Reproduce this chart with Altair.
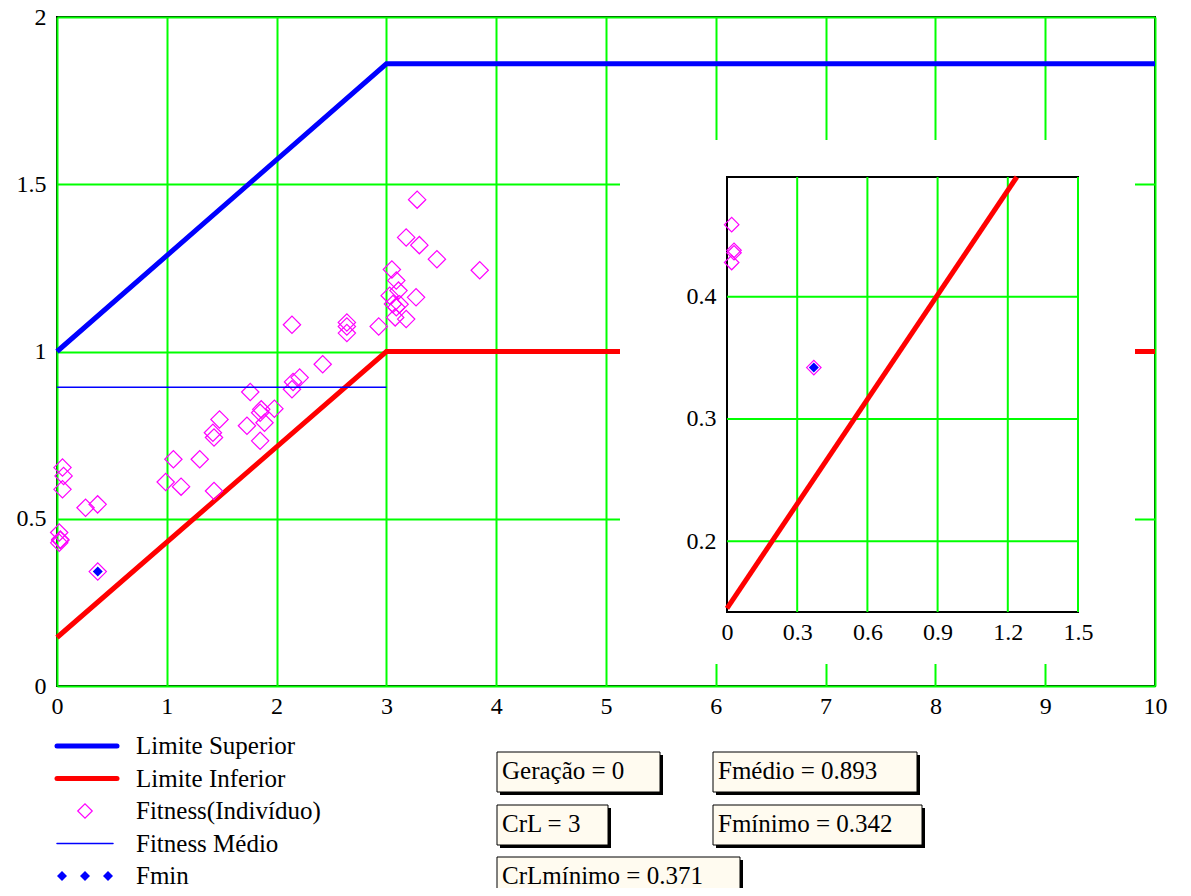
import altair as alt
import pandas as pd

# ------------------------------------------------------------------ data
LIMIT_X = [0, 3, 10]
LIMITE_SUPERIOR = [1.0, 1.86, 1.86]
LIMITE_INFERIOR = [0.145, 1.0, 1.0]

FIT_X = [3.28, 3.18, 3.30, 3.46, 3.85, 3.05, 3.09, 3.11, 3.03, 3.27, 3.06, 3.09, 3.12,
         3.08, 3.18, 2.93, 2.64, 2.64, 2.64, 2.14, 2.42, 2.21, 2.15, 2.14, 1.76, 1.86,
         1.85, 1.98, 1.89, 1.73, 1.85, 1.48, 1.42, 1.43, 1.30, 1.06, 0.99, 1.13, 1.43,
         0.05, 0.06, 0.05, 0.26, 0.37, 0.02, 0.03, 0.03, 0.02, 0.371]
FIT_Y = [1.454, 1.341, 1.318, 1.276, 1.243, 1.245, 1.212, 1.182, 1.167, 1.162, 1.142,
         1.132, 1.141, 1.102, 1.097, 1.075, 1.087, 1.075, 1.055, 1.080, 0.962, 0.922,
         0.909, 0.887, 0.879, 0.827, 0.817, 0.829, 0.787, 0.778, 0.733, 0.797, 0.757,
         0.743, 0.678, 0.678, 0.610, 0.596, 0.583, 0.653, 0.628, 0.588, 0.533, 0.543,
         0.459, 0.438, 0.436, 0.428, 0.342]

FMEDIO = 0.893
FMEDIO_X = [0, 3]
FMIN = 0.342
CRL_MIN = 0.371
GERACAO = 0
CRL = 3

MAIN_X_DOMAIN = [0, 10]
MAIN_Y_DOMAIN = [0, 2]
MAIN_X_TICKS = [0, 1, 2, 3, 4, 5, 6, 7, 8, 9, 10]
MAIN_Y_TICKS = [0, 0.5, 1, 1.5, 2]

INSET_X_DOMAIN = [0, 1.5]
INSET_Y_DOMAIN = [0.142, 0.498]
INSET_X_TICKS = [0, 0.3, 0.6, 0.9, 1.2, 1.5]
INSET_Y_TICKS = [0.2, 0.3, 0.4]

LEGEND_LABELS = ["Limite Superior", "Limite Inferior", "Fitness(Indivíduo)",
                 "Fitness Médio", "Fmin"]
BOX_TEXTS = [f"Geração = {GERACAO}", f"Fmédio = {FMEDIO}", f"CrL = {CRL}",
             f"Fmínimo = {FMIN}", f"CrLmínimo = {CRL_MIN}"]

# ------------------------------------------------------------------ layout
W, H = 1098, 669
PAD = {"left": 49, "top": 9, "right": 28, "bottom": 202}
INSET_RANGE_X = [670, 1021]
INSET_RANGE_Y = [595, 160]
PANEL = dict(x=563, x2=1078, y=123, y2=647)    # white panel behind the inset
LEGEND_ROWS_RANGE = [729, 859]
BOX_LEFT = [440, 656]
BOX_TOP = [735, 788, 840]
BOX_W = [163, 204, 111, 209, 243]
BOX_COL = [0, 1, 0, 1, 0]
BOX_ROW = [0, 0, 1, 1, 2]
BOX_H = 40
SHADOW = 3

FONT = "Liberation Serif"
GREEN = "#00ff00"
BLUE = "#0000ff"
RED = "#ff0000"
MAGENTA = "#ff00ff"
CREAM = "#fffbf0"


def clip_polyline(xs, ys, xlim, ylim):
    """Liang-Barsky clipping of a polyline to a rectangle."""
    out_x, out_y = [], []
    for i in range(len(xs) - 1):
        x0, y0, x1, y1 = xs[i], ys[i], xs[i + 1], ys[i + 1]
        dx, dy = x1 - x0, y1 - y0
        t0, t1 = 0.0, 1.0
        ok = True
        for p, q in ((-dx, x0 - xlim[0]), (dx, xlim[1] - x0),
                     (-dy, y0 - ylim[0]), (dy, ylim[1] - y0)):
            if p == 0:
                if q < 0:
                    ok = False
            else:
                r = q / p
                if p < 0:
                    t0 = max(t0, r)
                else:
                    t1 = min(t1, r)
        if ok and t0 <= t1:
            for t in (t0, t1):
                px, py = x0 + t * dx, y0 + t * dy
                if not out_x or (abs(out_x[-1] - px) > 1e-9 or abs(out_y[-1] - py) > 1e-9):
                    out_x.append(px)
                    out_y.append(py)
    return out_x, out_y


limits = pd.DataFrame({"x": LIMIT_X, "sup": LIMITE_SUPERIOR, "inf": LIMITE_INFERIOR})
fit = pd.DataFrame({"x": FIT_X, "y": FIT_Y})
medio = pd.DataFrame({"x": FMEDIO_X, "y": [FMEDIO] * len(FMEDIO_X)})
fmin = pd.DataFrame({"x": [CRL_MIN], "y": [FMIN]})

# ------------------------------------------------------------------ main plot
mx = alt.Scale(domain=MAIN_X_DOMAIN, nice=False, zero=False)
my = alt.Scale(domain=MAIN_Y_DOMAIN, nice=False, zero=False)
x_axis = alt.Axis(values=MAIN_X_TICKS, format="~g", grid=True, gridColor=GREEN, gridWidth=2,
                  domain=False, ticks=False, labelFont=FONT, labelFontSize=24,
                  labelColor="black", labelPadding=8, labelFlush=False,
                  labelOverlap=False, title=None)
y_axis = alt.Axis(values=MAIN_Y_TICKS, format="~g", grid=True, gridColor=GREEN, gridWidth=2,
                  domain=False, ticks=False, labelFont=FONT, labelFontSize=24,
                  labelColor="black", labelPadding=11, labelFlush=False,
                  labelOverlap=False, title=None)

sup_line = alt.Chart(limits).mark_line(color=BLUE, strokeWidth=5).encode(
    x=alt.X("x:Q", scale=mx, axis=x_axis),
    y=alt.Y("sup:Q", scale=my, axis=y_axis),
)
inf_line = alt.Chart(limits).mark_line(color=RED, strokeWidth=5).encode(
    x=alt.X("x:Q", scale=mx), y=alt.Y("inf:Q", scale=my))
fit_pts = alt.Chart(fit).mark_point(shape="diamond", filled=False, color=MAGENTA,
                                    size=300, strokeWidth=1.2, opacity=1).encode(
    x=alt.X("x:Q", scale=mx), y=alt.Y("y:Q", scale=my))
medio_line = alt.Chart(medio).mark_line(color=BLUE, strokeWidth=1.5).encode(
    x=alt.X("x:Q", scale=mx), y=alt.Y("y:Q", scale=my))
fmin_pt = alt.Chart(fmin).mark_point(shape="diamond", filled=True, color=BLUE,
                                     size=100, opacity=1).encode(
    x=alt.X("x:Q", scale=mx), y=alt.Y("y:Q", scale=my))
panel = alt.Chart(fmin).mark_rect(color="white").encode(
    x=alt.value(PANEL["x"]), x2=alt.value(PANEL["x2"]),
    y=alt.value(PANEL["y"]), y2=alt.value(PANEL["y2"]))

main = alt.layer(sup_line, inf_line, fit_pts, medio_line, fmin_pt, panel)

# ------------------------------------------------------------------ inset
ix = alt.Scale(domain=INSET_X_DOMAIN, range=INSET_RANGE_X, nice=False, zero=False)
iy = alt.Scale(domain=INSET_Y_DOMAIN, range=INSET_RANGE_Y, nice=False, zero=False)

frame_df = pd.DataFrame({"x0": [INSET_X_DOMAIN[0]], "x1": [INSET_X_DOMAIN[1]],
                         "y0": [INSET_Y_DOMAIN[0]], "y1": [INSET_Y_DOMAIN[1]]})
ix_axis = alt.Axis(values=INSET_X_TICKS, format="~g", grid=False, domain=False, ticks=False,
                   labelFont=FONT, labelFontSize=24, labelColor="black",
                   labelPadding=8, labelFlush=False, labelOverlap=False,
                   title=None, orient="bottom", offset=INSET_RANGE_Y[0] - H, zindex=1)
iy_axis = alt.Axis(values=INSET_Y_TICKS, format="~g", grid=False, domain=False, ticks=False,
                   labelFont=FONT, labelFontSize=24, labelColor="black",
                   labelPadding=11, labelFlush=False, labelOverlap=False,
                   title=None, orient="left", offset=-INSET_RANGE_X[0], zindex=1)

inset_frame = alt.Chart(frame_df).mark_rect(fill="white", stroke="black",
                                            strokeWidth=2).encode(
    x=alt.X("x0:Q", scale=ix, axis=ix_axis), x2="x1:Q",
    y=alt.Y("y0:Q", scale=iy, axis=iy_axis), y2="y1:Q")

vgrid = pd.DataFrame({"x": [t for t in INSET_X_TICKS if t > INSET_X_DOMAIN[0]]})
vgrid["y0"], vgrid["y1"] = INSET_Y_DOMAIN[0], INSET_Y_DOMAIN[1]
hgrid = pd.DataFrame({"y": INSET_Y_TICKS})
hgrid["x0"], hgrid["x1"] = INSET_X_DOMAIN[0], INSET_X_DOMAIN[1]

inset_vgrid = alt.Chart(vgrid).mark_rule(color=GREEN, strokeWidth=2).encode(
    x=alt.X("x:Q", scale=ix), y=alt.Y("y0:Q", scale=iy), y2="y1:Q")
inset_hgrid = alt.Chart(hgrid).mark_rule(color=GREEN, strokeWidth=2).encode(
    y=alt.Y("y:Q", scale=iy), x=alt.X("x0:Q", scale=ix), x2="x1:Q")

cx, cy = clip_polyline(LIMIT_X, LIMITE_INFERIOR, INSET_X_DOMAIN, INSET_Y_DOMAIN)
inf_clip = pd.DataFrame({"x": cx, "y": cy})
inset_inf = alt.Chart(inf_clip).mark_line(color=RED, strokeWidth=5).encode(
    x=alt.X("x:Q", scale=ix), y=alt.Y("y:Q", scale=iy))

in_domain = ((alt.datum.x >= INSET_X_DOMAIN[0]) & (alt.datum.x <= INSET_X_DOMAIN[1]) &
             (alt.datum.y >= INSET_Y_DOMAIN[0]) & (alt.datum.y <= INSET_Y_DOMAIN[1]))
inset_pts = alt.Chart(fit).transform_filter(in_domain).mark_point(
    shape="diamond", filled=False, color=MAGENTA, size=210, strokeWidth=1.2,
    opacity=1).encode(x=alt.X("x:Q", scale=ix), y=alt.Y("y:Q", scale=iy))
inset_fmin = alt.Chart(fmin).mark_point(shape="diamond", filled=True, color=BLUE,
                                        size=100, opacity=1).encode(
    x=alt.X("x:Q", scale=ix), y=alt.Y("y:Q", scale=iy))

inset = alt.layer(inset_frame, inset_hgrid, inset_vgrid, inset_inf, inset_pts, inset_fmin)

# ------------------------------------------------------------------ legend
leg = pd.DataFrame({"row": list(range(len(LEGEND_LABELS))), "label": LEGEND_LABELS})
ly = alt.Scale(domain=[0, len(LEGEND_LABELS) - 1], range=LEGEND_ROWS_RANGE, nice=False, zero=False)
Y_LEG = alt.Y("row:Q", scale=ly, axis=None)

leg_text = alt.Chart(leg).mark_text(align="left", baseline="middle", font=FONT,
                                    fontSize=25, color="black").encode(
    x=alt.value(79), y=Y_LEG, text="label:N")
leg_layers = [leg_text]
for idx, colr, sw, x2 in ((0, BLUE, 5, 60), (1, RED, 5, 60), (3, BLUE, 1.5, 56)):
    leg_layers.append(
        alt.Chart(leg).transform_filter(alt.datum.row == idx)
        .mark_rule(color=colr, strokeWidth=sw, strokeCap="round")
        .encode(x=alt.value(0), x2=alt.value(x2), y=Y_LEG))
leg_layers.append(
    alt.Chart(leg).transform_filter(alt.datum.row == 2)
    .mark_point(shape="diamond", filled=False, color=MAGENTA, size=210, strokeWidth=1.2, opacity=1)
    .encode(x=alt.value(28), y=Y_LEG))
for px in (5, 28, 51):
    leg_layers.append(
        alt.Chart(leg).transform_filter(alt.datum.row == 4)
        .mark_point(shape="diamond", filled=True, color=BLUE, size=100, opacity=1)
        .encode(x=alt.value(px), y=Y_LEG))
legend = alt.layer(*leg_layers)

# ------------------------------------------------------------------ value boxes
bx = pd.DataFrame({"text": BOX_TEXTS})
bx["left"] = [BOX_LEFT[c] for c in BOX_COL]
bx["right"] = bx["left"] + BOX_W
bx["top"] = [BOX_TOP[r] for r in BOX_ROW]
bx["bottom"] = bx["top"] + BOX_H
bx["sleft"] = bx["left"] + SHADOW
bx["sright"] = bx["right"] + SHADOW
bx["stop"] = bx["top"] + SHADOW
bx["sbottom"] = bx["bottom"] + SHADOW
bx["tx"] = bx["left"] + 5
bx["ty"] = bx["top"] + BOX_H / 2 - 1
pxs = alt.Scale(domain=[0, W], range=[0, W], nice=False, zero=False)
pys = alt.Scale(domain=[0, H], range=[0, H], nice=False, zero=False)

shadow = alt.Chart(bx).mark_rect(color="black").encode(
    x=alt.X("sleft:Q", scale=pxs, axis=None), x2="sright:Q",
    y=alt.Y("stop:Q", scale=pys, axis=None), y2="sbottom:Q")
box = alt.Chart(bx).mark_rect(fill=CREAM, stroke="black", strokeWidth=1).encode(
    x=alt.X("left:Q", scale=pxs, axis=None), x2="right:Q",
    y=alt.Y("top:Q", scale=pys, axis=None), y2="bottom:Q")
box_text = alt.Chart(bx).mark_text(align="left", baseline="middle", font=FONT,
                                   fontSize=25, color="black").encode(
    x=alt.X("tx:Q", scale=pxs, axis=None), y=alt.Y("ty:Q", scale=pys, axis=None),
    text="text:N")
boxes = alt.layer(shadow, box, box_text)

# ------------------------------------------------------------------ assemble
chart = (
    alt.layer(main, inset, legend, boxes)
    .resolve_scale(x="independent", y="independent")
    .properties(width=W, height=H, padding=PAD,
                autosize=alt.AutoSizeParams(type="none"), background="white")
    .configure_view(stroke="black", strokeWidth=2)
)

chart.save("out.html", embed_options={"renderer": "svg", "actions": False})
